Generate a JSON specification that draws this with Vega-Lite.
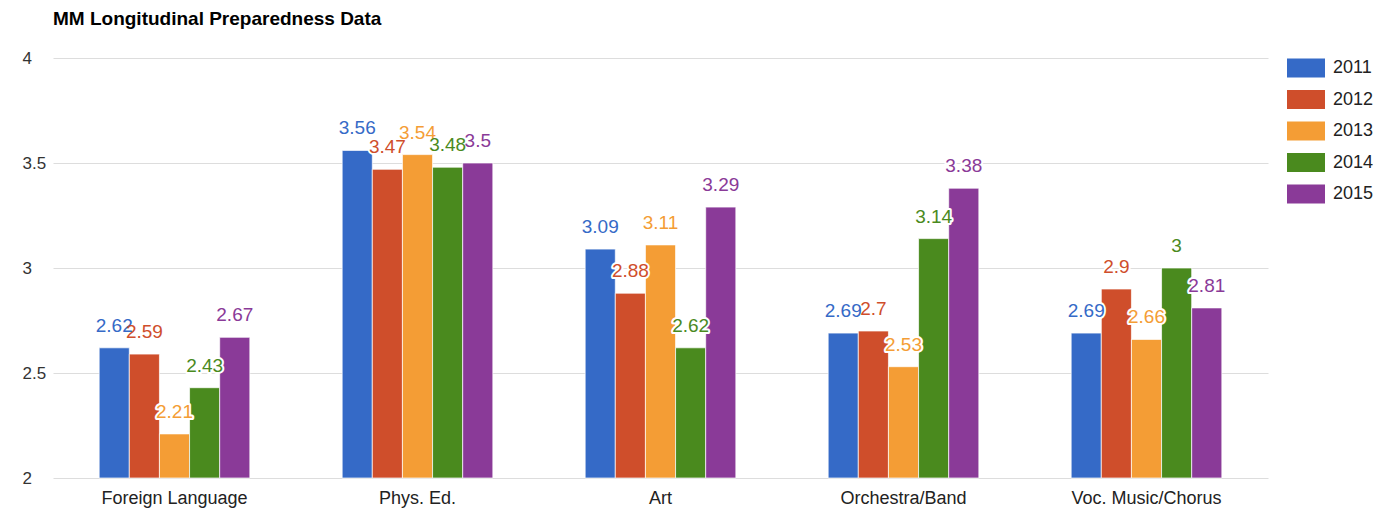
{
  "$schema": "https://vega.github.io/schema/vega-lite/v6.json",
  "width": 1215,
  "height": 420,
  "autosize": "none",
  "padding": {"left": 53, "top": 58, "right": 125, "bottom": 34},
  "background": "white",
  "title": {
    "text": "MM Longitudinal Preparedness Data",
    "anchor": "start",
    "frame": "group",
    "font": "Liberation Sans",
    "fontSize": 19,
    "fontWeight": "bold",
    "color": "#000000",
    "offset": 20
  },
  "config": {
    "view": {"stroke": null},
    "font": "Liberation Sans"
  },
  "data": {
    "values": [
      {"subject": "Foreign Language", "year": "2011", "value": 2.62},
      {"subject": "Foreign Language", "year": "2012", "value": 2.59},
      {"subject": "Foreign Language", "year": "2013", "value": 2.21},
      {"subject": "Foreign Language", "year": "2014", "value": 2.43},
      {"subject": "Foreign Language", "year": "2015", "value": 2.67},
      {"subject": "Phys. Ed.", "year": "2011", "value": 3.56},
      {"subject": "Phys. Ed.", "year": "2012", "value": 3.47},
      {"subject": "Phys. Ed.", "year": "2013", "value": 3.54},
      {"subject": "Phys. Ed.", "year": "2014", "value": 3.48},
      {"subject": "Phys. Ed.", "year": "2015", "value": 3.5},
      {"subject": "Art", "year": "2011", "value": 3.09},
      {"subject": "Art", "year": "2012", "value": 2.88},
      {"subject": "Art", "year": "2013", "value": 3.11},
      {"subject": "Art", "year": "2014", "value": 2.62},
      {"subject": "Art", "year": "2015", "value": 3.29},
      {"subject": "Orchestra/Band", "year": "2011", "value": 2.69},
      {"subject": "Orchestra/Band", "year": "2012", "value": 2.7},
      {"subject": "Orchestra/Band", "year": "2013", "value": 2.53},
      {"subject": "Orchestra/Band", "year": "2014", "value": 3.14},
      {"subject": "Orchestra/Band", "year": "2015", "value": 3.38},
      {"subject": "Voc. Music/Chorus", "year": "2011", "value": 2.69},
      {"subject": "Voc. Music/Chorus", "year": "2012", "value": 2.9},
      {"subject": "Voc. Music/Chorus", "year": "2013", "value": 2.66},
      {"subject": "Voc. Music/Chorus", "year": "2014", "value": 3},
      {"subject": "Voc. Music/Chorus", "year": "2015", "value": 2.81}
    ]
  },
  "encoding": {
    "x": {
      "field": "subject",
      "type": "nominal",
      "sort": ["Foreign Language", "Phys. Ed.", "Art", "Orchestra/Band", "Voc. Music/Chorus"],
      "scale": {"paddingInner": 0.38, "paddingOuter": 0.19},
      "axis": {
        "title": null,
        "labelAngle": 0,
        "labelFontSize": 18,
        "labelFont": "Liberation Sans",
        "labelColor": "#222222",
        "domain": false,
        "ticks": false,
        "labelPadding": 11
      }
    },
    "xOffset": {
      "field": "year",
      "type": "nominal",
      "scale": {"paddingInner": 0, "paddingOuter": 0}
    },
    "y": {
      "field": "value",
      "type": "quantitative",
      "scale": {"domain": [2, 4], "zero": false, "nice": false},
      "axis": {
        "title": null,
        "values": [2, 2.5, 3, 3.5, 4],
        "labelExpr": "'' + datum.value",
        "grid": true,
        "gridColor": "#dddddd",
        "gridWidth": 1,
        "domain": false,
        "ticks": false,
        "tickSize": 0,
        "labelAlign": "left",
        "labelPadding": 31,
        "labelFontSize": 17,
        "labelFont": "Liberation Sans",
        "labelColor": "#333333"
      }
    }
  },
  "layer": [
    {
      "mark": {"type": "bar", "stroke": "white", "strokeWidth": 1, "strokeOpacity": 0.7},
      "encoding": {
        "y2": {"datum": 2},
        "color": {
          "field": "year",
          "type": "nominal",
          "scale": {
            "domain": ["2011", "2012", "2013", "2014", "2015"],
            "range": ["#356ac7", "#cf4e2b", "#f49d35", "#4a8a1e", "#8a3a98"]
          },
          "legend": {
            "title": null,
            "orient": "none",
            "legendX": 1234,
            "legendY": -9,
            "padding": 0,
            "symbolType": "M-1,-0.5H1V0.5H-1Z",
            "symbolSize": 1444,
            "symbolStrokeWidth": 0,
            "symbolOpacity": 1,
            "labelFontSize": 18,
            "labelFont": "Liberation Sans",
            "labelColor": "#222222",
            "labelOffset": 8,
            "rowPadding": 2.5
          }
        }
      }
    },
    {
      "mark": {
        "type": "text",
        "font": "Liberation Sans",
        "fontSize": 19,
        "baseline": "alphabetic",
        "dy": -16,
        "fill": "white",
        "stroke": "white",
        "strokeWidth": 4,
        "strokeJoin": "round"
      },
      "encoding": {
        "text": {"field": "value", "type": "nominal"}
      }
    },
    {
      "mark": {
        "type": "text",
        "font": "Liberation Sans",
        "fontSize": 19,
        "baseline": "alphabetic",
        "dy": -16
      },
      "encoding": {
        "text": {"field": "value", "type": "nominal"},
        "color": {"field": "year", "type": "nominal", "legend": null}
      }
    }
  ]
}
